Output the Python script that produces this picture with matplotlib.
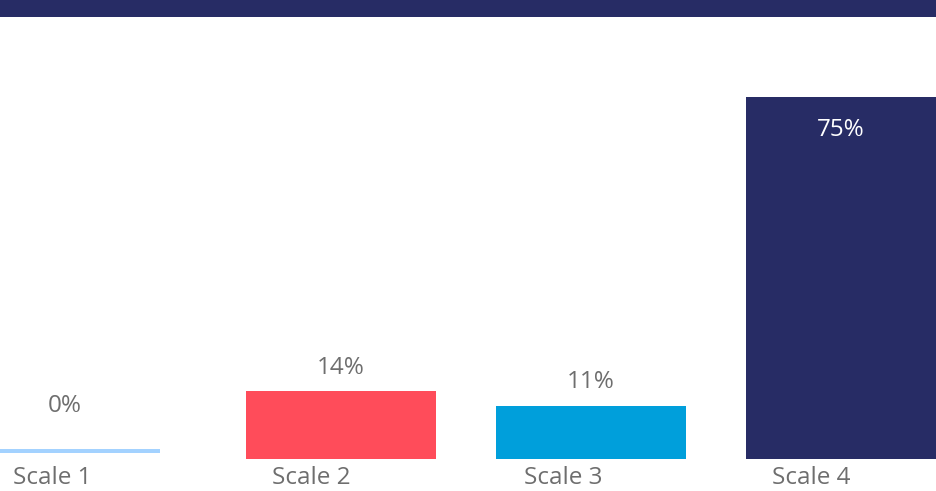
import numpy as np
import matplotlib.pyplot as plt
from matplotlib.patches import Rectangle

plt.rcParams['font.family'] = ['Open Sans', 'DejaVu Sans']

categories = ['Scale 1', 'Scale 2', 'Scale 3', 'Scale 4']
values = [0, 14, 11, 75]
labels = ['0%', '14%', '11%', '75%']
colors = ['#A3D2FF', '#FF4C5A', '#009FDB', '#272C65']

navy = '#272C65'
grey = '#6E6E6E'

fig = plt.figure(figsize=(9.36, 4.91), dpi=100)
ax = fig.add_axes([0, 0.0652, 1, 0.9002])

# band across the top
fig.patches.append(Rectangle((0, 0.9654), 1, 0.0346, transform=fig.transFigure,
                             facecolor=navy, edgecolor='none'))

pos = np.arange(len(categories)).astype(float)
pos[0] = -0.104   # first bar sits a bit left in the original
width = 0.76
fs = 17.5

for i, v in enumerate(values):
    if v == 0:
        # zero shows as a thin line just above the base
        ax.bar(pos[i], 0.85, width=width, bottom=1.25, color=colors[i])
    else:
        ax.bar(pos[i], v, width=width, color=colors[i])

for i, v in enumerate(values):
    if v == 0:
        ax.annotate(labels[i], (pos[i], 0), xytext=(0, 38), textcoords='offset points',
                    ha='center', va='center', fontsize=fs, color=grey)
    elif v > 50:
        ax.annotate(labels[i], (pos[i], v), xytext=(0, -23.5), textcoords='offset points',
                    ha='center', va='center', fontsize=fs, color='white')
    else:
        ax.annotate(labels[i], (pos[i], v), xytext=(0, 17), textcoords='offset points',
                    ha='center', va='center', fontsize=fs, color=grey)

label_shift = [-0.05, -0.12, -0.11, -0.12]
for i, c in enumerate(categories):
    ax.annotate(c, (pos[i] + label_shift[i], 0), xytext=(0, -14), textcoords='offset points',
                ha='center', va='center', fontsize=fs, color=grey, annotation_clip=False)

ax.set_xlim(-0.364, 3.38)
ax.set_ylim(0, 91.57)
ax.axis('off')

fig.savefig('out.png', dpi=100)
